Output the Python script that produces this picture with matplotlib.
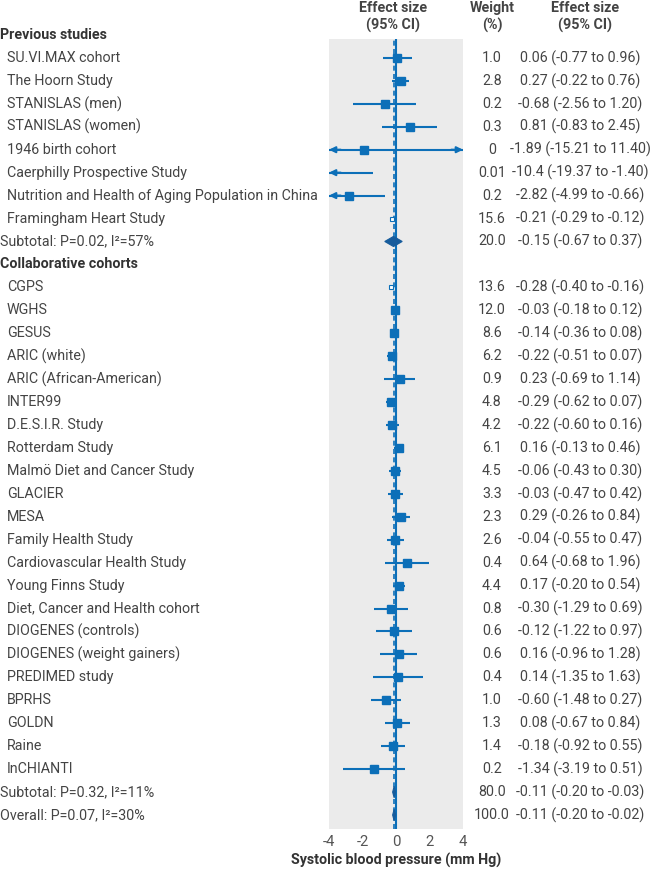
import matplotlib
matplotlib.use('Agg')
import matplotlib.pyplot as plt
import matplotlib.transforms as mtransforms
from matplotlib.patches import Polygon

plt.rcParams['font.family'] = ['Roboto', 'DejaVu Sans']

# --- data -------------------------------------------------------------
prev_names = ['SU.VI.MAX cohort', 'The Hoorn Study', 'STANISLAS (men)', 'STANISLAS (women)',
              '1946 birth cohort', 'Caerphilly Prospective Study',
              'Nutrition and Health of Aging Population in China', 'Framingham Heart Study']
prev_est = [0.06, 0.27, -0.68, 0.81, -1.89, -10.4, -2.82, -0.21]
prev_lo = [-0.77, -0.22, -2.56, -0.83, -15.21, -19.37, -4.99, -0.29]
prev_hi = [0.96, 0.76, 1.20, 2.45, 11.40, -1.40, -0.66, -0.12]
prev_weight = ['1.0', '2.8', '0.2', '0.3', '0', '0.01', '0.2', '15.6']

coll_names = ['CGPS', 'WGHS', 'GESUS', 'ARIC (white)', 'ARIC (African-American)', 'INTER99',
              'D.E.S.I.R. Study', 'Rotterdam Study', 'Malmö Diet and Cancer Study', 'GLACIER',
              'MESA', 'Family Health Study', 'Cardiovascular Health Study', 'Young Finns Study',
              'Diet, Cancer and Health cohort', 'DIOGENES (controls)', 'DIOGENES (weight gainers)',
              'PREDIMED study', 'BPRHS', 'GOLDN', 'Raine', 'InCHIANTI']
coll_est = [-0.28, -0.03, -0.14, -0.22, 0.23, -0.29, -0.22, 0.16, -0.06, -0.03, 0.29,
            -0.04, 0.64, 0.17, -0.30, -0.12, 0.16, 0.14, -0.60, 0.08, -0.18, -1.34]
coll_lo = [-0.40, -0.18, -0.36, -0.51, -0.69, -0.62, -0.60, -0.13, -0.43, -0.47, -0.26,
           -0.55, -0.68, -0.20, -1.29, -1.22, -0.96, -1.35, -1.48, -0.67, -0.92, -3.19]
coll_hi = [-0.16, 0.12, 0.08, 0.07, 1.14, 0.07, 0.16, 0.46, 0.30, 0.42, 0.84,
           0.47, 1.96, 0.54, 0.69, 0.97, 1.28, 1.63, 0.27, 0.84, 0.55, 0.51]
coll_weight = ['13.6', '12.0', '8.6', '6.2', '0.9', '4.8', '4.2', '6.1', '4.5', '3.3', '2.3',
               '2.6', '0.4', '4.4', '0.8', '0.6', '0.6', '0.4', '1.0', '1.3', '1.4', '0.2']

pooled_names = ['Subtotal: P=0.02, I²=57%', 'Subtotal: P=0.32, I²=11%', 'Overall: P=0.07, I²=30%']
pooled_est = [-0.15, -0.11, -0.11]
pooled_lo = [-0.67, -0.20, -0.20]
pooled_hi = [0.37, -0.03, -0.02]
pooled_weight = ['20.0', '80.0', '100.0']

BLUE = '#0c6fb8'
NAVY = '#175c9c'
TXT = '#444444'
FS = 10.3


def ci_text(e, l, h):
    es = '-10.4' if e == -10.4 else f'{e:.2f}'
    return f'{es} ({l:.2f} to {h:.2f})'


# --- row layout -------------------------------------------------------
rows = []  # (kind, name, est, lo, hi, weight)
rows.append(('head', 'Previous studies', None, None, None, None))
for i in range(len(prev_names)):
    rows.append(('study', prev_names[i], prev_est[i], prev_lo[i], prev_hi[i], prev_weight[i]))
rows.append(('pool', pooled_names[0], pooled_est[0], pooled_lo[0], pooled_hi[0], pooled_weight[0]))
rows.append(('head', 'Collaborative cohorts', None, None, None, None))
for i in range(len(coll_names)):
    rows.append(('study', coll_names[i], coll_est[i], coll_lo[i], coll_hi[i], coll_weight[i]))
rows.append(('pool', pooled_names[1], pooled_est[1], pooled_lo[1], pooled_hi[1], pooled_weight[1]))
rows.append(('pool', pooled_names[2], pooled_est[2], pooled_lo[2], pooled_hi[2], pooled_weight[2]))

W, H = 657, 873
fig = plt.figure(figsize=(W / 100, H / 100), dpi=100)
# plot panel: x 329-463 px, y 39-829 px; rows every ~22.94 px starting at 35 px
ax = fig.add_axes([329 / W, 1 - 829 / H, 134 / W, 790 / H])
ax.set_facecolor('#ebebeb')
ax.set_xlim(-4, 4)
ax.set_ylim(34.61, 0.174)
for s in ax.spines.values():
    s.set_visible(False)
ax.set_yticks([])
ax.set_xticks([-4, -2, 0, 2, 4])
ax.set_xticklabels(['-4', '-2', '0', '2', '4'])
ax.tick_params(axis='x', length=0, pad=4, labelsize=FS + 0.4, labelcolor='#555555')
ax.set_xlabel('Systolic blood pressure (mm Hg)', fontsize=FS, fontweight='bold',
              color='#333333', labelpad=3)

ax.axvline(0, color=BLUE, lw=1.5, zorder=2)
ax.axvline(pooled_est[2], color=BLUE, lw=1.2, ls=(0, (3, 2)), zorder=2)

tr = mtransforms.blended_transform_factory(fig.transFigure, ax.transData)

for i, (kind, name, e, l, h, w) in enumerate(rows):
    y = i
    if kind == 'head':
        ax.text(0, y, name, transform=tr, fontsize=FS, fontweight='bold',
                color='#333333', va='center', ha='left')
        continue
    xname = 7 / W if kind == 'study' else 0
    ax.text(xname, y, name, transform=tr, fontsize=FS, color=TXT, va='center', ha='left')
    ax.text(492 / W, y, w, transform=tr, fontsize=FS, color=TXT, va='center', ha='center')
    ax.text(580 / W, y, ci_text(e, l, h), transform=tr, fontsize=FS, color=TXT,
            va='center', ha='center')
    if kind == 'pool':
        hh = 0.22 if i == 9 else 0.25
        ax.add_patch(Polygon([[l, y], [e, y - hh], [h, y], [e, y + hh]], closed=True,
                             facecolor=NAVY, edgecolor=NAVY, lw=0.8, zorder=4))
        continue
    # CI line, arrows when clipped
    left = max(l, -4)
    right = min(h, 4)
    ax.plot([left, right], [y, y], color=BLUE, lw=1.5, solid_capstyle='butt', zorder=3)
    if l < -4:
        ax.annotate('', xy=(-4, y), xytext=(-3.3, y),
                    arrowprops=dict(arrowstyle='-|>', color=BLUE, lw=1.5,
                                    mutation_scale=9, shrinkA=0, shrinkB=0), zorder=3)
    if h > 4:
        ax.annotate('', xy=(4, y), xytext=(3.3, y),
                    arrowprops=dict(arrowstyle='-|>', color=BLUE, lw=1.5,
                                    mutation_scale=9, shrinkA=0, shrinkB=0), zorder=3)
    if -4 < e < 4:
        wt = float(w)
        if wt > 13:
            ax.plot([e], [y], marker='s', ms=3.5, mfc='white', mec=BLUE, mew=0.8, zorder=4)
        else:
            ax.plot([e], [y], marker='s', ms=5.5, color=BLUE, zorder=4)

for xp, label in [(393, 'Effect size\n(95% CI)'), (492, 'Weight\n(%)'), (585, 'Effect size\n(95% CI)')]:
    fig.text(xp / W, 1 - 17 / H, label, fontsize=FS, fontweight='bold',
             color='#444444', ha='center', va='center', linespacing=1.2)

fig.savefig('out.png', dpi=100, facecolor='white')
